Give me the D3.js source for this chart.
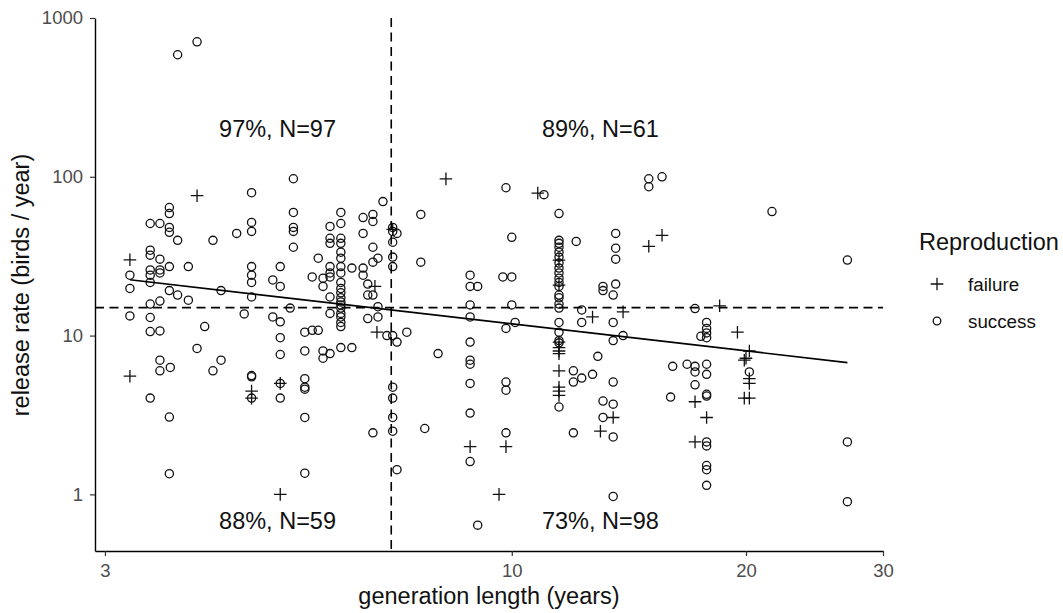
<!DOCTYPE html>
<html>
<head>
<meta charset="utf-8">
<script src="https://cdn.jsdelivr.net/npm/d3@7"></script>
<style>
  body { margin: 0; background: #fff; }
  text { font-family: "Liberation Sans", Arial, sans-serif; }
</style>
</head>
<body>
<svg width="1063" height="613"></svg>
<script>
// generation length (years) and release rate (birds / year), by reproduction outcome
var failureGen  = [3.94, 3.23, 7.03, 6.67, 8.23, 6.71, 8.84, 9.63, 3.23, 4.63, 4.63, 5.04, 5.04, 10.8, 11.5, 11.5,
                   15.0, 15.6, 12.7, 13.9, 11.5, 11.5, 11.5, 11.5, 11.5, 11.5, 11.5, 11.5, 13.5, 13.0, 9.83, 17.2,
                   17.2, 18.5, 19.5, 20.2, 20.0, 19.9, 20.2, 20.2, 19.9, 20.2, 17.8]
var failureRate = [76, 30, 46.7, 20.4, 97, 10.5, 2.0, 1.0, 5.55, 4.47, 4.04, 5.0, 1.0, 79, 29.9, 20.8,
                   36.5, 42.8, 13.1, 14.1, 9.1, 8.4, 8.0, 7.7, 6.0, 4.73, 4.47, 4.2, 3.05, 2.5, 2.0, 3.83,
                   2.14, 15.4, 10.5, 8.0, 7.2, 7.0, 5.35, 5.0, 4.04, 4.04, 3.05]

var successGen = [
  3.72, 3.94, 4.63, 3.63, 3.63, 3.43, 3.53, 3.63, 3.63, 3.72, 4.13, 4.43, 4.63, 4.63, 5.24, 5.24, 5.24, 5.24, 5.24,
  3.43, 3.43, 3.53, 3.63, 3.84, 3.43, 3.53, 3.43, 3.53, 3.43, 3.23, 4.63, 4.63, 4.63, 5.04, 4.93, 5.04, 3.23, 3.63, 4.23,
  6.83, 7.64, 6.03, 6.03, 6.44, 6.63, 6.63, 5.84, 7.03, 7.03, 7.12, 6.44, 5.84, 5.84, 6.03, 6.03, 7.03, 6.63, 6.03, 6.03,
  5.64, 6.73, 6.63, 7.03, 7.64, 5.84, 5.84, 6.03, 6.03, 6.23, 6.44, 6.44, 7.03, 5.54, 5.72, 5.84, 5.72, 6.53, 8.84, 8.84,
  9.04, 9.74, 10.0,
  6.03, 6.03, 6.03, 6.03, 6.03, 6.03, 6.03, 6.03, 6.03, 6.03, 6.03,
  6.53, 6.63, 6.73, 6.73, 6.53, 5.84, 5.84, 5.19, 5.42, 5.54, 5.64, 6.91, 7.03, 7.12, 7.33, 5.42, 5.72, 5.72, 5.84, 6.03,
  6.23, 8.04, 8.84, 8.84, 8.84, 8.84, 8.84, 8.84, 8.84, 8.84, 9.04, 5.42, 5.42, 5.42, 5.42, 5.42, 7.03, 7.03, 7.03, 7.03,
  6.63, 7.73, 7.12,
  3.72, 3.84, 3.53, 3.43, 4.63, 3.23, 3.43, 3.43, 3.53, 4.03, 4.53, 4.93, 5.04, 5.04, 5.04, 3.94, 3.53, 3.53, 3.64, 4.23,
  4.13, 4.63, 4.63, 4.63, 5.04, 5.04, 3.43, 3.63, 3.63,
  9.83, 11.0, 11.5, 10.0, 11.5, 11.5, 11.5, 11.5, 11.5, 11.5, 11.5, 11.5, 11.5, 11.5, 12.1, 13.6, 13.6, 13.6, 15.0, 15.0,
  15.6, 13.1, 13.6,
  11.5, 11.5, 11.5, 11.5, 11.5, 13.1, 13.5, 10.0, 12.3, 12.3, 13.5, 9.83, 10.1, 11.5, 11.5, 11.5, 11.5, 13.5, 13.9, 12.9,
  12.0, 12.0, 12.3, 12.7, 11.5, 13.5, 13.1, 13.5, 13.1, 13.5, 12.0, 9.83, 9.83, 9.83, 13.5, 16.1, 16.8, 17.2, 17.2, 17.2,
  16.0,
  17.2, 17.8, 17.8, 17.8, 17.5, 17.8, 20.2, 17.8, 17.8, 17.8, 17.8, 17.8, 17.8, 17.8, 17.8, 17.8, 27.0, 27.0, 21.6, 27.0
]
var successRate = [
  587, 708, 79.4, 64, 58.7, 50.8, 50.8, 48, 44.7, 39.8, 39.8, 44, 51.6, 45.3, 97.2, 59.6, 48, 45.3, 36,
  34.5, 32.1, 30.3, 27.2, 27.2, 25.9, 25.9, 24, 24.8, 21.6, 24, 27.2, 24, 21.6, 27.2, 22.4, 20.4, 19.8, 19.2, 19.2,
  69.8, 57.9, 59.6, 50.8, 55.4, 57.9, 52.3, 48.7, 48, 45.3, 44, 44, 41, 38.1, 41, 38.1, 38.7, 36, 33.5, 30.7,
  30.7, 30.7, 29, 31.2, 29, 27.2, 24.8, 27.2, 24.8, 26.6, 26.6, 24, 27.2, 23.4, 23, 23.4, 20.4, 21.1, 24, 20.4,
  20.4, 23.4, 23.4,
  21.6, 19.8, 18.6, 17.3, 16.3, 15.6, 14.9, 13.8, 13.1, 12.1, 11.4,
  18, 18, 15.2, 13.1, 12.8, 17.5, 13.8, 14.9, 10.5, 10.8, 10.8, 10, 10, 9.1, 10.5, 8.0, 8.0, 7.2, 7.7, 8.4,
  8.4, 7.7, 15.6, 13.1, 9.1, 7.0, 6.6, 5.0, 3.25, 1.61, 0.64, 5.35, 4.73, 4.6, 3.05, 1.36, 4.73, 4.04, 3.05, 2.5,
  2.44, 2.6, 1.43,
  18, 16.7, 16.5, 15.8, 17.5, 13.3, 13.0, 10.6, 10.7, 11.4, 13.7, 13.1, 12.2, 9.7, 7.6, 8.3, 7.0, 6.0, 6.3, 7.0,
  6.0, 5.6, 5.5, 4.04, 5.0, 4.04, 4.04, 3.07, 1.35,
  85.3, 77.2, 58.7, 41.6, 39.8, 38.1, 36, 33.5, 31.2, 28.6, 26.6, 24.8, 23, 21.6, 39.2, 44, 35.5, 30.3, 97.2, 86.6,
  100, 20.4, 21.1,
  20.4, 18, 17.3, 15.8, 14.9, 19.2, 18, 15.6, 14.5, 12.1, 12.1, 11.1, 12.1, 12.1, 10.5, 9.3, 9.0, 9.3, 10, 7.4,
  6.0, 5.1, 5.4, 5.7, 3.55, 5.1, 3.87, 3.7, 3.05, 2.3, 2.44, 5.1, 4.53, 2.44, 0.97, 6.4, 6.6, 6.4, 5.9, 4.9,
  4.1,
  14.8, 12.1, 11.1, 10.4, 9.9, 9.7, 5.9, 6.6, 5.7, 4.27, 4.16, 2.14, 2.02, 1.52, 1.43, 1.14, 2.14, 0.9, 60.4, 29.9
]

// log10(rate) = fitIntercept + fitSlope * log10(gen)
var fitIntercept = 1.640
var fitSlope = -0.566

var thresholdGen = 7
var thresholdRate = 15

var xTicks = [3, 10, 20, 30]
var yTicks = [1, 10, 100, 1000]

var quadLabels = ["97%, N=97", "89%, N=61", "88%, N=59", "73%, N=98"]
var quadGen  = [5, 13, 5, 13]
var quadRate = [200, 200, 0.68, 0.68]

var legendLabels = ["failure", "success"]

var svg = d3.select('svg')
var font = '"Liberation Sans", Arial, sans-serif'

var x = d3.scaleLog().domain([2.913, 30]).range([95, 883])
var y = d3.scaleLog().domain([0.44, 1000]).range([551, 18])

var failures = failureGen.map(function(g, i){ return {gen: g, rate: failureRate[i]} })
var successes = successGen.map(function(g, i){ return {gen: g, rate: successRate[i]} })

var plusPath = "M-6.3,0H6.3M0,-6.3V6.3"
var ptStroke = 1.3

// points
svg.append('g').selectAll('circle')
  .data(successes)
  .enter()
  .append('circle')
  .attr("cx", function(d){ return x(d.gen) })
  .attr("cy", function(d){ return y(d.rate) })
  .attr("r", 4.1)
  .attr("fill", "none")
  .attr("stroke", "#111")
  .attr("stroke-width", ptStroke)

svg.append('g').selectAll('path')
  .data(failures)
  .enter()
  .append('path')
  .attr("d", plusPath)
  .attr("transform", function(d){ return "translate(" + x(d.gen) + "," + y(d.rate) + ")" })
  .attr("stroke", "#111")
  .attr("stroke-width", ptStroke)

// threshold lines
svg.append('line')
  .attr("x1", x(thresholdGen)).attr("x2", x(thresholdGen))
  .attr("y1", y.range()[1]).attr("y2", y.range()[0])
  .attr("stroke", "#000").attr("stroke-width", 1.6)
  .attr("stroke-dasharray", "9,5.5")

svg.append('line')
  .attr("x1", x.range()[0]).attr("x2", x.range()[1])
  .attr("y1", y(thresholdRate)).attr("y2", y(thresholdRate))
  .attr("stroke", "#000").attr("stroke-width", 1.6)
  .attr("stroke-dasharray", "9,5.5")

// regression line over the data range
var allGen = failureGen.concat(successGen)
var fitGen = d3.extent(allGen)
var fitLine = d3.line()
  .x(function(g){ return x(g) })
  .y(function(g){ return y(Math.pow(10, fitIntercept + fitSlope * Math.log10(g))) })

svg.append('path')
  .attr("d", fitLine(fitGen))
  .attr("fill", "none")
  .attr("stroke", "#000")
  .attr("stroke-width", 1.7)

// axes
svg.append('g')
  .attr("transform", "translate(0,551)")
  .call(d3.axisBottom(x).tickValues(xTicks).tickFormat(d3.format('d')).tickSize(5).tickSizeOuter(0).tickPadding(8))

svg.append('g')
  .attr("transform", "translate(95,0)")
  .call(d3.axisLeft(y).tickValues(yTicks).tickFormat(d3.format('d')).tickSize(5).tickSizeOuter(0).tickPadding(7))

svg.selectAll('.domain').attr("stroke", "#000").attr("stroke-width", 1.4)
svg.selectAll('.tick line').attr("stroke", "#333").attr("stroke-width", 1.2)
svg.selectAll('.tick text')
  .attr("fill", "#4d4d4d")
  .style("font-size", "18.5px")
  .style("font-family", font)

// quadrant annotations
svg.append('g').selectAll('text')
  .data(quadLabels)
  .enter()
  .append('text')
  .attr("x", function(d, i){ return x(quadGen[i]) })
  .attr("y", function(d, i){ return y(quadRate[i]) })
  .attr("dy", "0.36em")
  .attr("text-anchor", "middle")
  .style("font-size", "23.5px")
  .attr("fill", "#111")
  .text(function(d){ return d })

// axis titles
svg.append('text')
  .attr("x", 489)
  .attr("y", 604)
  .attr("text-anchor", "middle")
  .style("font-size", "23.5px")
  .attr("fill", "#111")
  .text("generation length (years)")

svg.append('text')
  .attr("transform", "translate(29,285) rotate(-90)")
  .attr("text-anchor", "middle")
  .style("font-size", "23.5px")
  .attr("fill", "#111")
  .text("release rate (birds / year)")

// legend
var legend = svg.append('g')
legend.append('text')
  .attr("x", 919)
  .attr("y", 250)
  .style("font-size", "23.5px")
  .attr("fill", "#111")
  .text("Reproduction")

var entries = legend.selectAll('g.entry')
  .data(legendLabels)
  .enter()
  .append('g')
  .attr("class", "entry")
  .attr("transform", function(d, i){ return "translate(937," + (284 + i * 37) + ")" })

entries.each(function(d){
  var g = d3.select(this)
  if (d == "failure") {
    g.append('path').attr("d", plusPath).attr("stroke", "#111").attr("stroke-width", ptStroke)
  } else {
    g.append('circle').attr("r", 3.8).attr("fill", "none").attr("stroke", "#111").attr("stroke-width", ptStroke)
  }
  g.append('text')
    .attr("x", 31)
    .attr("dy", "0.35em")
    .style("font-size", "18.8px")
    .attr("fill", "#111")
    .text(d)
})
</script>
</body>
</html>
